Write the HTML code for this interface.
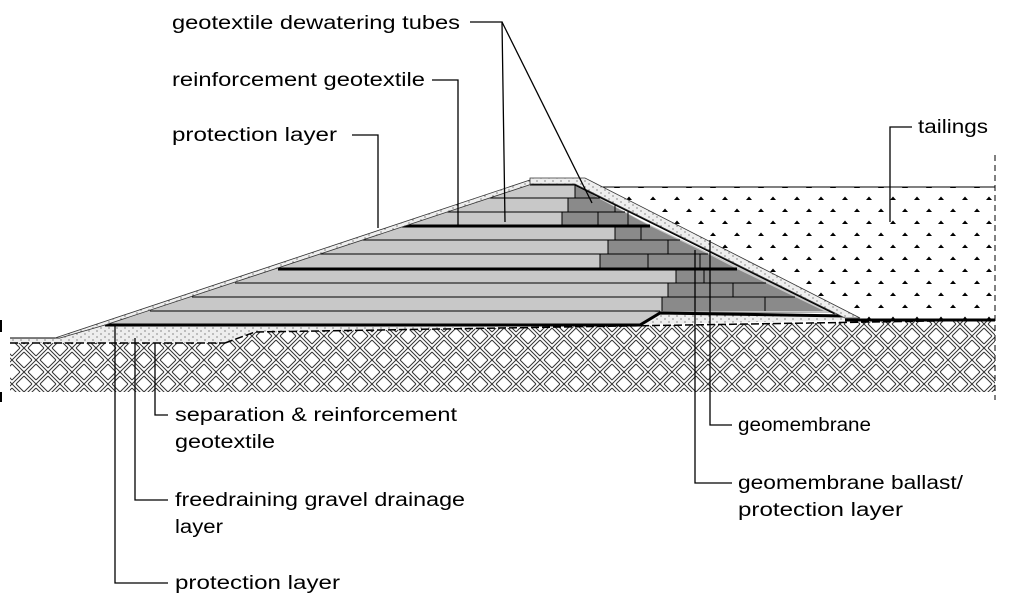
<!DOCTYPE html>
<html><head><meta charset="utf-8"><style>html,body{margin:0;padding:0;background:#fff}svg{display:block}</style></head>
<body>
<svg width="1024" height="602" viewBox="0 0 1024 602" xmlns="http://www.w3.org/2000/svg" font-family="Liberation Sans, sans-serif" font-size="19" fill="#000">
<defs>
<pattern id="hatch" width="24" height="24" patternUnits="userSpaceOnUse">
<rect width="24" height="24" fill="#fff"/>
<g stroke="#333" stroke-width="1">
<line x1="0" y1="8" x2="8" y2="0"/><line x1="0" y1="12" x2="12" y2="0"/><line x1="4" y1="12" x2="12" y2="4"/>
<line x1="12" y1="24" x2="24" y2="12"/><line x1="16" y1="24" x2="24" y2="16"/><line x1="12" y1="20" x2="20" y2="12"/>
<line x1="12" y1="0" x2="24" y2="12"/><line x1="16" y1="0" x2="24" y2="8"/><line x1="12" y1="4" x2="20" y2="12"/>
<line x1="0" y1="12" x2="12" y2="24"/><line x1="0" y1="16" x2="8" y2="24"/><line x1="4" y1="12" x2="12" y2="20"/>
</g>
</pattern>
<pattern id="dots" width="24" height="24" patternUnits="userSpaceOnUse">
<rect width="24" height="24" fill="#fff"/>
<path d="M2 8 l3 -3.5 l3 3.5z M14 20 l3 -3.5 l3 3.5z" fill="#000"/>
</pattern>
<pattern id="sand" width="8" height="6" patternUnits="userSpaceOnUse">
<rect width="8" height="6" fill="#eee"/>
<circle cx="1" cy="1" r="0.6" fill="#444"/><circle cx="5" cy="4" r="0.6" fill="#444"/>
</pattern>
</defs>

<polygon points="10,343 225,343 255,332 995,320 995,392 10,392" fill="url(#hatch)"/>
<polygon points="60,338 105,325 640,325 660,313 850,316 860,320 255,332 225,343 10,343 10,338" fill="url(#sand)"/>
<line x1="10" y1="343" x2="225" y2="343" stroke="#000" stroke-width="1.5" stroke-dasharray="8,3"/>
<polyline points="225,343 255,332 995,320" fill="none" stroke="#000" stroke-width="1.5" stroke-dasharray="8,3"/>
<line x1="10" y1="338" x2="60" y2="338" stroke="#000" stroke-width="1"/>

<polygon points="600,187 995,187 995,320 860,320" fill="url(#dots)"/>
<line x1="600" y1="187" x2="995" y2="187" stroke="#000" stroke-width="1"/>

<polygon points="105,325 532,184 575,184 640,220 835,313 660,313 640,325" fill="#c8c8c8"/>
<g fill="#8a8a8a">
<polygon points="575,184 575,198 598,198"/>
<polygon points="568,198 598,198 624,212 568,212"/>
<polygon points="562,212 624,212 650,226 562,226"/>
<polygon points="615,226 650,226 679,240 615,240"/>
<polygon points="608,240 679,240 708,254 608,254"/>
<polygon points="600,254 708,254 737,269 600,269"/>
<polygon points="676,269 737,269 766,283 676,283"/>
<polygon points="668,283 766,283 795,297 668,297"/>
<polygon points="662,297 795,297 824,311 662,311"/>
<polygon points="652,311 835,313 660,313"/>
</g>
<g stroke="#000" stroke-width="1">
<line x1="615" y1="198" x2="615" y2="212"/><line x1="598" y1="212" x2="598" y2="226"/><line x1="628" y1="212" x2="628" y2="226"/>
<line x1="641" y1="226" x2="641" y2="240"/><line x1="668" y1="240" x2="668" y2="254"/><line x1="648" y1="254" x2="648" y2="269"/><line x1="700" y1="254" x2="700" y2="269"/>
<line x1="704" y1="269" x2="704" y2="283"/><line x1="733" y1="283" x2="733" y2="297"/><line x1="710" y1="297" x2="710" y2="311"/><line x1="765" y1="297" x2="765" y2="311"/>
</g>
<g stroke="#000" stroke-width="1">
<line x1="485" y1="198" x2="600" y2="198"/><line x1="442" y1="212" x2="625" y2="212"/>
<line x1="360" y1="240" x2="680" y2="240"/><line x1="318" y1="254" x2="708" y2="254"/>
<line x1="235" y1="283" x2="766" y2="283"/><line x1="192" y1="297" x2="795" y2="297"/><line x1="150" y1="311" x2="660" y2="311"/>
<line x1="575" y1="184" x2="575" y2="198"/><line x1="568" y1="198" x2="568" y2="212"/><line x1="562" y1="212" x2="562" y2="226"/>
<line x1="615" y1="226" x2="615" y2="240"/><line x1="608" y1="240" x2="608" y2="254"/><line x1="600" y1="254" x2="600" y2="269"/>
<line x1="676" y1="269" x2="676" y2="283"/><line x1="668" y1="283" x2="668" y2="297"/><line x1="662" y1="297" x2="662" y2="311"/>
</g>
<g stroke="#000" stroke-width="3">
<line x1="402" y1="226" x2="650" y2="226"/>
<line x1="278" y1="269" x2="737" y2="269"/>
<polyline points="105,325 640,325 660,313 845,316" fill="none"/>
<line x1="530" y1="184" x2="575" y2="184"/>
<line x1="575" y1="184" x2="835" y2="313"/>
<line x1="845" y1="320" x2="995" y2="320"/>
</g>
<polygon points="55,338 530,180 532,184 105,325 60,338" fill="url(#sand)" stroke="#333" stroke-width="0.8"/>
<polygon points="530,178 585,178 860,318 845,318 575,184 530,184" fill="url(#sand)" stroke="#333" stroke-width="0.8"/>

<line x1="995" y1="155" x2="995" y2="400" stroke="#000" stroke-dasharray="6,4"/>
<line x1="1" y1="320" x2="1" y2="332" stroke="#000" stroke-width="2"/>
<line x1="1" y1="392" x2="1" y2="402" stroke="#000" stroke-width="2"/>

<g stroke="#000" stroke-width="1.3" fill="none">
<polyline points="470,22 502,22 505,222"/><line x1="502" y1="22" x2="592" y2="203"/>
<polyline points="432,80 458,80 458,226"/>
<polyline points="352,135 378,135 378,228"/>
<polyline points="912,127 890,127 890,222"/>
<polyline points="168,415 155,415 155,343"/>
<polyline points="168,500 135,500 135,338"/>
<polyline points="168,583 115,583 115,325"/>
<polyline points="732,425 710,425 710,240"/>
<polyline points="732,483 695,483 695,250"/>
</g>

<text x="172" y="29" textLength="288" lengthAdjust="spacingAndGlyphs">geotextile dewatering tubes</text>
<text x="172" y="86" textLength="253" lengthAdjust="spacingAndGlyphs">reinforcement geotextile</text>
<text x="172" y="141" textLength="165" lengthAdjust="spacingAndGlyphs">protection layer</text>
<text x="918" y="133" textLength="70" lengthAdjust="spacingAndGlyphs">tailings</text>
<text x="175" y="421" textLength="282" lengthAdjust="spacingAndGlyphs">separation &amp; reinforcement</text>
<text x="175" y="448" textLength="100" lengthAdjust="spacingAndGlyphs">geotextile</text>
<text x="175" y="506" textLength="290" lengthAdjust="spacingAndGlyphs">freedraining gravel drainage</text>
<text x="175" y="533" textLength="48" lengthAdjust="spacingAndGlyphs">layer</text>
<text x="175" y="589" textLength="165" lengthAdjust="spacingAndGlyphs">protection layer</text>
<text x="738" y="431" textLength="133" lengthAdjust="spacingAndGlyphs">geomembrane</text>
<text x="738" y="489" textLength="225" lengthAdjust="spacingAndGlyphs">geomembrane ballast/</text>
<text x="738" y="516" textLength="165" lengthAdjust="spacingAndGlyphs">protection layer</text>
</svg>
</body></html>
